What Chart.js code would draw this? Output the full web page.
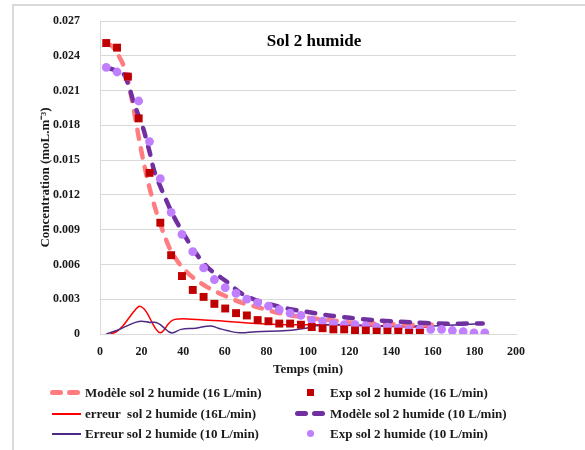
<!DOCTYPE html>
<html>
<head>
<meta charset="utf-8">
<script src="https://cdn.jsdelivr.net/npm/chart.js@4.4.1/dist/chart.umd.min.js"></script>
<style>
  html, body { margin: 0; padding: 0; background: #fff; overflow: hidden; }
  #wrap { position: relative; width: 585px; height: 450px; }
  #frame { position: absolute; left: 12px; top: 4px; width: 640px; height: 520px; border: 2px solid #d9d9d9; box-sizing: border-box; }
  canvas { position: absolute; left: 0; top: 0; }
  #legend { position: absolute; left: 48px; top: 383px; display: grid;
    grid-template-columns: 37px 208px 37px 220px; grid-auto-rows: 20.5px; align-items: center;
    font: bold 13px "Liberation Serif", "Times New Roman", serif; color: #1a1a1a; white-space: pre; }
  .sym { position: relative; height: 20px; }
  .sym span { position: absolute; display: block; }
</style>
</head>
<body>
<div id="wrap">
  <div id="frame"></div>
  <canvas id="c" width="585" height="450"></canvas>
  <div id="legend"></div>
</div>
<script>
// sampling times (min) of the measured points
const times = [3, 8.2, 13.4, 18.6, 23.8, 29, 34.2, 39.4, 44.6, 49.8, 55, 60.2, 65.4, 70.6, 75.8, 81, 86.2, 91.4, 96.6, 101.8,
  107, 112.2, 117.4, 122.6, 127.8, 133, 138.2, 143.4, 148.6, 153.8, 159, 164.2, 169.4, 174.6, 179.8, 185];

// measured concentration, 16 L/min (first 30 times)
const exp16 = [0.0251, 0.0247, 0.0222, 0.0186, 0.0139, 0.0096, 0.0068, 0.0050, 0.0038, 0.0032, 0.0026, 0.0022, 0.0018, 0.0016,
  0.0012, 0.0011, 0.0009, 0.0009, 0.0008, 0.0006, 0.0005, 0.0004, 0.0004, 0.0003, 0.0003, 0.0002, 0.0002, 0.0002, 0.0001, 0.0001];

// measured concentration, 10 L/min
const exp10 = [0.0230, 0.0226, 0.0222, 0.0201, 0.0166, 0.0134, 0.0105, 0.0086, 0.0071, 0.0057, 0.0047, 0.0040, 0.0035, 0.0030,
  0.0027, 0.0024, 0.0021, 0.0018, 0.0016, 0.0012, 0.0011, 0.0009, 0.0008, 0.0008, 0.0007, 0.0006, 0.0006, 0.0005, 0.0004,
  0.0004, 0.0004, 0.0004, 0.0003, 0.0002, 0.0001, 0.0001];

// model curves
const model16T = [3, 6, 9, 11, 13, 15, 17, 19, 21, 23, 25, 28, 31, 34, 38, 42, 46, 52, 60, 68, 76, 84, 92, 100, 110, 120, 130, 140, 150, 160];
const model16C = [0.0251, 0.0248, 0.0240, 0.0233, 0.0222, 0.0205, 0.0186, 0.0166, 0.0148, 0.0132, 0.0118, 0.0100, 0.0085, 0.0072,
  0.0061, 0.0053, 0.0047, 0.0040, 0.0033, 0.0027, 0.0023, 0.0019, 0.0016, 0.0014, 0.0012, 0.0010, 0.0009, 0.00085, 0.0008, 0.0008];

const model10T = [3, 8, 11.5, 14, 16, 19, 21, 24, 26, 30, 35, 40, 46, 52, 61, 68, 77, 90, 100, 110, 120, 131, 140, 150, 163, 184];
const model10C = [0.0230, 0.0227, 0.0224, 0.0213, 0.0201, 0.0186, 0.0176, 0.0156, 0.0141, 0.0123, 0.0103, 0.0087, 0.0070, 0.0057,
  0.0045, 0.0035, 0.0028, 0.0022, 0.0019, 0.0016, 0.0014, 0.0012, 0.0011, 0.0010, 0.0009, 0.0009];

// error curves
const err16T = [5, 8, 11, 14, 17, 19, 21, 23, 25, 27, 29, 31, 33, 35, 38, 42, 50, 60, 75, 90, 110, 130, 150, 158];
const err16C = [0, 0.0002, 0.0007, 0.0014, 0.0021, 0.0024, 0.0022, 0.0017, 0.0010, 0.0004, 0.0001, 0.0004, 0.0009, 0.0012,
  0.0013, 0.0013, 0.0012, 0.0011, 0.0009, 0.0008, 0.0008, 0.0007, 0.0006, 0.0006];

const err10T = [3, 8, 13, 17, 20, 24, 27, 29, 31, 33, 35, 39, 46, 53, 57, 61, 67, 75, 90, 99, 104, 108, 120, 140, 160, 184];
const err10C = [0, 0.0003, 0.0007, 0.0010, 0.0011, 0.0010, 0.0010, 0.0008, 0.0005, 0.0002, 0.0001, 0.0004, 0.0005, 0.0007,
  0.0005, 0.0003, 0.0001, 0.0002, 0.0003, 0.0005, 0.0007, 0.0008, 0.0008, 0.0007, 0.0007, 0.0009];

const xTicks = [0, 200, 20];
const yTicks = [0, 0.027, 0.003];

const pts = (xs, ys) => ys.map((y, i) => ({ x: xs[i], y }));
const FONT = '"Liberation Serif", "Times New Roman", serif';

const datasets = [
  { label: 'Modèle sol 2 humide (16 L/min)', kind: 'dash', data: pts(model16T, model16C), borderColor: '#ff7c80',
    borderWidth: 4.5, borderDash: [9, 10], borderCapStyle: 'round', pointRadius: 0, tension: 0.3, order: 4 },
  { label: 'Exp sol 2 humide (16 L/min)', kind: 'rect', data: pts(times, exp16), showLine: false, pointStyle: 'rect',
    pointRadius: 5.6, backgroundColor: '#c00000', borderColor: '#c00000', borderWidth: 0, order: 1 },
  { label: 'erreur  sol 2 humide (16L/min)', kind: 'line', data: pts(err16T, err16C), borderColor: '#ff0000',
    borderWidth: 1.5, pointRadius: 0, tension: 0.4, order: 6 },
  { label: 'Modèle sol 2 humide (10 L/min)', kind: 'dash', data: pts(model10T, model10C), borderColor: '#7030a0',
    borderWidth: 4.5, borderDash: [9, 10], borderCapStyle: 'round', pointRadius: 0, tension: 0.3, order: 3 },
  { label: 'Erreur sol 2 humide (10 L/min)', kind: 'line', data: pts(err10T, err10C), borderColor: '#4e2a84',
    borderWidth: 1.5, pointRadius: 0, tension: 0.4, order: 5 },
  { label: 'Exp sol 2 humide (10 L/min)', kind: 'circle', data: pts(times, exp10), showLine: false, pointStyle: 'circle',
    pointRadius: 4.4, backgroundColor: '#bf7fff', borderColor: '#bf7fff', borderWidth: 0, order: 2 }
];

const titlePlugin = {
  id: 'innerTitle',
  afterDraw(chart) {
    const { ctx, chartArea } = chart;
    ctx.save();
    ctx.font = 'bold 17px ' + FONT;
    ctx.fillStyle = '#000';
    ctx.textAlign = 'center';
    ctx.textBaseline = 'middle';
    ctx.fillText('Sol 2 humide', (chartArea.left + chartArea.right) / 2 + 6, chartArea.top + 21);
    ctx.restore();
  }
};

new Chart(document.getElementById('c'), {
  type: 'line',
  data: { datasets },
  plugins: [titlePlugin],
  options: {
    responsive: false,
    animation: false,
    layout: { padding: { left: 0, right: 69, top: 21, bottom: 71 } },
    plugins: { legend: { display: false }, tooltip: { enabled: false } },
    scales: {
      x: {
        type: 'linear', min: xTicks[0], max: xTicks[1],
        afterFit: s => { s.height = 45; },
        grid: { display: false, drawTicks: false },
        border: { display: true, color: '#d9d9d9', width: 1 },
        ticks: { stepSize: xTicks[2], padding: 11, color: '#1a1a1a', font: { family: FONT, size: 12, weight: 'bold' } },
        title: { display: true, text: 'Temps (min)', color: '#1a1a1a', padding: { top: 0, bottom: 2 },
          font: { family: FONT, size: 13, weight: 'bold' } }
      },
      y: {
        type: 'linear', min: yTicks[0], max: yTicks[1],
        // keep the wide label gap from inflating the top/bottom margins
        afterFit: s => { s.width = 100; s.paddingTop = 8; s.paddingBottom = 8; },
        grid: { color: '#d9d9d9', lineWidth: 1, drawTicks: false },
        border: { display: true, color: '#d9d9d9', width: 1 },
        ticks: { stepSize: yTicks[2], padding: 20, color: '#1a1a1a', font: { family: FONT, size: 12, weight: 'bold' },
          callback: v => v === 0 ? '0' : v.toFixed(3) },
        title: { display: true, text: 'Concentration (moL.m⁻³)', color: '#1a1a1a', padding: { top: 38, bottom: 0 },
          font: { family: FONT, size: 13, weight: 'bold' } }
      }
    }
  }
});

// legend laid out in two columns like the original
const legendOrder = [0, 1, 2, 3, 4, 5];
const legend = document.getElementById('legend');
legendOrder.forEach(i => {
  const ds = datasets[i];
  const sym = document.createElement('div');
  sym.className = 'sym';
  const c = ds.borderColor;
  if (ds.kind === 'dash') {
    sym.innerHTML = `<span style="left:2px;top:7px;width:13px;height:5px;border-radius:3px;background:${c}"></span>` +
      `<span style="left:19px;top:7px;width:13px;height:5px;border-radius:3px;background:${c}"></span>`;
  } else if (ds.kind === 'line') {
    sym.innerHTML = `<span style="left:4px;top:9px;width:29px;height:2px;background:${c}"></span>`;
  } else if (ds.kind === 'rect') {
    sym.innerHTML = `<span style="left:14px;top:6px;width:7px;height:7px;background:${ds.backgroundColor}"></span>`;
  } else {
    sym.innerHTML = `<span style="left:14px;top:6px;width:7px;height:7px;border-radius:50%;background:${ds.backgroundColor}"></span>`;
  }
  const txt = document.createElement('div');
  txt.textContent = ds.label;
  legend.appendChild(sym);
  legend.appendChild(txt);
});
</script>
</body>
</html>
